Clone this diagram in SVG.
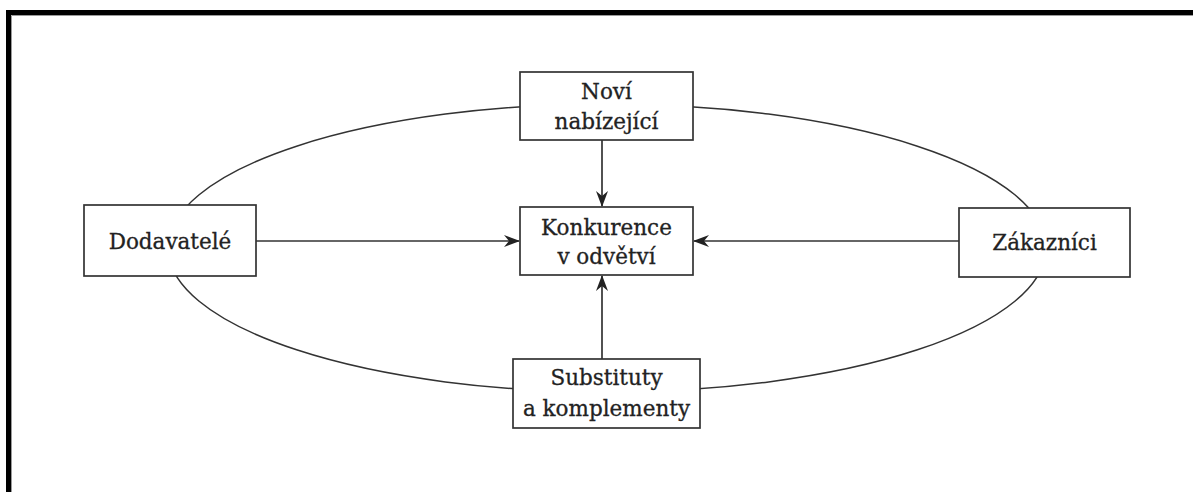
<svg xmlns="http://www.w3.org/2000/svg" width="1193" height="492" viewBox="0 0 1193 492">
  <style>
    .box { fill: #ffffff; stroke: #333333; stroke-width: 1.7; }
    .lbl { font-family: "DejaVu Serif", "Liberation Serif", serif; font-size: 21.5px; fill: #222222; stroke: #222222; stroke-width: 0.3; text-anchor: middle; }
    .conn { fill: none; stroke: #333333; stroke-width: 1.7; }
    .orbit { fill: none; stroke: #333333; stroke-width: 1.5; }
  </style>
  <defs>
    <marker id="arrow" viewBox="0 0 16 12" refX="15" refY="6" markerWidth="16" markerHeight="12" markerUnits="userSpaceOnUse" orient="auto">
      <path d="M0,0 L16,6 L0,12 L5,6 Z" fill="#222222"/>
    </marker>
  </defs>

  <rect width="1193" height="492" fill="#ffffff"/>

  <!-- page frame -->
  <g id="frame">
    <path d="M8.5,492 V12.5 H1193" fill="none" stroke="#000000" stroke-width="5"/>
    <path d="M11.5,492 V15.5 H1193" fill="none" stroke="#9a9a9a" stroke-width="1"/>
  </g>

  <!-- ellipse linking the outer forces -->
  <ellipse class="orbit" cx="607" cy="248" rx="439" ry="144"/>

  <!-- arrows towards the central box -->
  <g id="connectors">
    <line class="conn" x1="602" y1="140" x2="602" y2="206" marker-end="url(#arrow)"/>
    <line class="conn" x1="256" y1="241" x2="519" y2="241" marker-end="url(#arrow)"/>
    <line class="conn" x1="959" y1="241" x2="694" y2="241" marker-end="url(#arrow)"/>
    <line class="conn" x1="602" y1="359" x2="602" y2="276" marker-end="url(#arrow)"/>
  </g>

  <g id="novi">
    <rect class="box" x="520" y="72" width="173" height="68"/>
    <text class="lbl" x="606.5" y="99">Noví</text>
    <text class="lbl" x="606.5" y="129">nabízející</text>
  </g>

  <g id="konkurence">
    <rect class="box" x="520" y="207" width="173" height="68"/>
    <text class="lbl" x="606.5" y="235">Konkurence</text>
    <text class="lbl" x="606.5" y="264">v odvětví</text>
  </g>

  <g id="dodavatele">
    <rect class="box" x="84" y="205" width="172" height="71"/>
    <text class="lbl" x="170" y="249">Dodavatelé</text>
  </g>

  <g id="zakaznici">
    <rect class="box" x="959" y="208" width="171" height="69"/>
    <text class="lbl" x="1044.5" y="250">Zákazníci</text>
  </g>

  <g id="substituty">
    <rect class="box" x="513" y="359" width="187" height="69"/>
    <text class="lbl" x="606.5" y="385">Substituty</text>
    <text class="lbl" x="606.5" y="416">a komplementy</text>
  </g>
</svg>
